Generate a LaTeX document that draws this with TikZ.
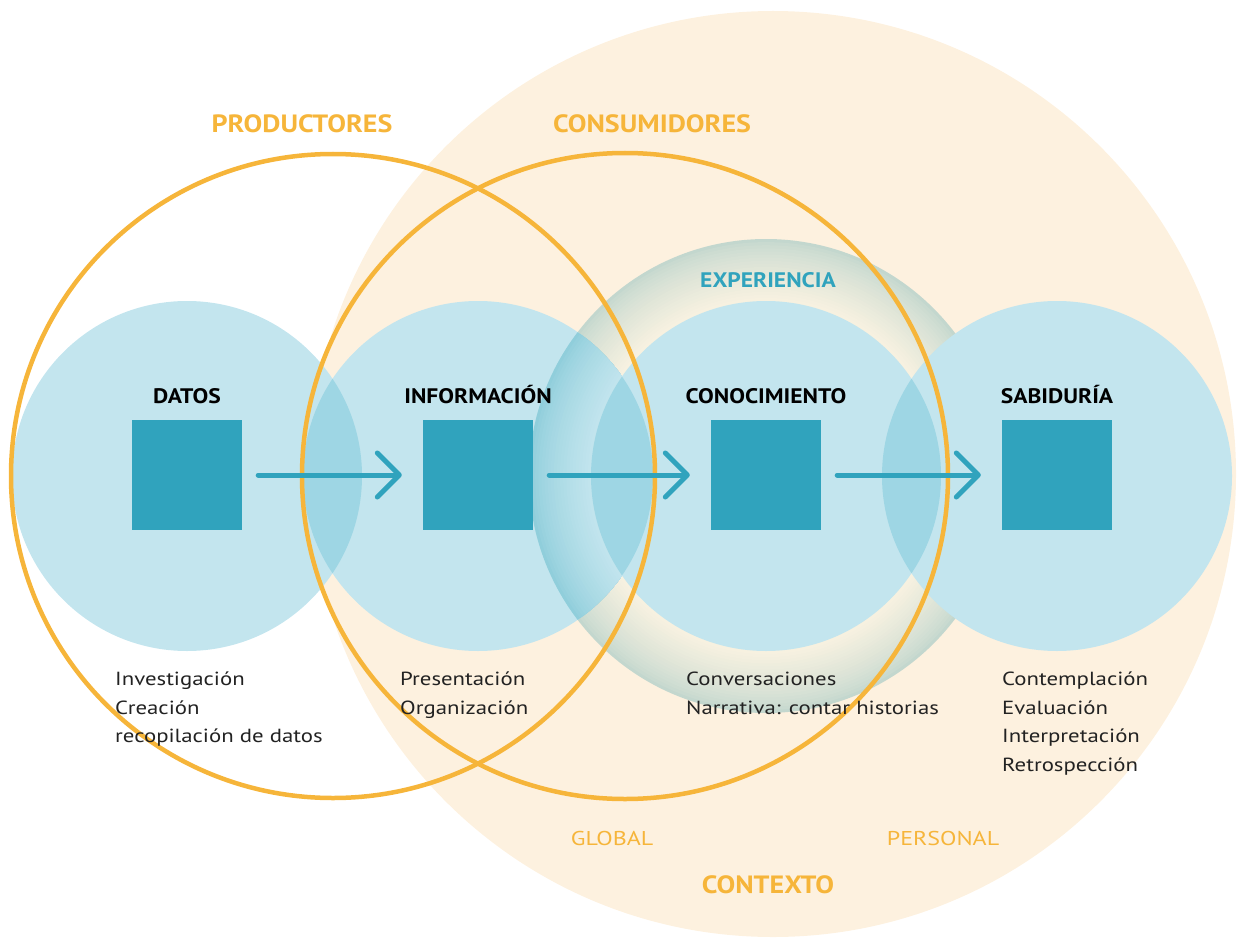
\documentclass[tikz,border=0pt]{standalone}
\usepackage{fontspec}
\setmainfont{PT Sans}
\newfontfamily\headfont[FakeStretch=1.12]{PT Sans}
\newfontfamily\listfont[FakeStretch=1.2]{PT Sans}
\usetikzlibrary{positioning,arrows.meta}
\definecolor{beige}{HTML}{FDF1DF}
\definecolor{circblue}{HTML}{C3E5EE}
\definecolor{lensblue}{HTML}{9ED6E4}
\definecolor{sqblue}{HTML}{30A3BD}
\definecolor{orangeline}{HTML}{F6B53A}
\definecolor{ringin}{HTML}{F9F2E1}
\definecolor{ringout}{HTML}{C3D7CE}
\definecolor{ringblue}{HTML}{90CEDB}
\definecolor{textgray}{HTML}{222222}

\begin{document}
\begin{tikzpicture}[x=1pt,y=-1pt,
		main/.style = {fill=sqblue, minimum size=110pt, inner sep=0pt},
		title/.style = {font=\headfont\bfseries\fontsize{21}{21}\selectfont, text=black, inner sep=0pt},
		group/.style = {font=\headfont\bfseries\fontsize{25}{25}\selectfont, text=orangeline, inner sep=0pt},
		scope/.style = {font=\listfont\fontsize{20}{20}\selectfont, text=orangeline, inner sep=0pt},
		list/.style = {font=\listfont\fontsize{19}{28.5}\selectfont, text=textgray, align=left, anchor=north west, inner sep=0pt},
		flow/.style = {line width=5pt, sqblue, line cap=round, shorten <=16pt, shorten >=21pt,
			-{Straight Barb[length=22pt,width=44pt,round]}},
		ring/.style = {draw=orangeline, line width=4.5pt}]
		\useasboundingbox (0,0) rectangle (1241,944);
		% contexto
		\fill[beige] (773,474) circle (463);
		% experiencia
		\foreach \k in {0,...,20} {
			\pgfmathsetmacro\r{237-\k*3.1}
			\pgfmathsetmacro\p{100*(\k/20)^0.75}
			\fill[ringin!\p!ringout] (766,476) circle (\r);
		}
		\fill[circblue] (187,476) circle (175);
		\fill[circblue] (478,476) circle (175);
		\fill[circblue] (1057,476) circle (175);
		\begin{scope}
			\clip (478,476) circle (175);
			\foreach \k in {0,...,20} {
				\pgfmathsetmacro\r{237-\k*3.1}
				\pgfmathsetmacro\p{100*(\k/20)^0.75}
				\fill[circblue!\p!ringblue] (766,476) circle (\r);
			}
		\end{scope}
		\fill[circblue] (766,476) circle (175);
		% overlaps
		\begin{scope}
			\clip (187,476) circle (175);
			\fill[lensblue] (478,476) circle (175);
		\end{scope}
		\begin{scope}
			\clip (478,476) circle (175);
			\fill[lensblue] (766,476) circle (175);
		\end{scope}
		\begin{scope}
			\clip (766,476) circle (175);
			\fill[lensblue] (1057,476) circle (175);
		\end{scope}
		% productores / consumidores
		\draw[ring] (333,476) circle (322);
		\draw[ring] (625,476) circle (323);
		\node[main] (d) at (187,475) {};
		\node[main] (i) at (478,475) {};
		\node[main] (c) at (766,475) {};
		\node[main] (s) at (1057,475) {};
		\node[title] (dt) [above=16pt of d] {DATOS};
		\node[title] (it) [above=16pt of i] {INFORMACIÓN};
		\node[title] (ct) [above=16pt of c] {CONOCIMIENTO};
		\node[title] (st) [above=16pt of s] {SABIDURÍA};
		\draw[flow] (d) -- (i);
		\draw[flow] (i) -- (c);
		\draw[flow] (c) -- (s);
		\node[group] (prod) at (302,124) {PRODUCTORES};
		\node[group] (cons) at (652,124) {CONSUMIDORES};
		\node[title, text=sqblue] (exp) at (768,280) {EXPERIENCIA};
		\node[list] (dl) at (115,672) {Investigación\\Creación\\recopilación de datos};
		\node[list] (il) at (400,672) {Presentación\\Organización};
		\node[list] (cl) at (686,672) {Conversaciones\\Narrativa: contar historias};
		\node[list] (sl) at (1002,672) {Contemplación\\Evaluación\\Interpretación\\Retrospección};
		\node[scope] (glob) at (612,838) {GLOBAL};
		\node[scope] (pers) at (943,838) {PERSONAL};
		\node[group] (ctx) at (768,885) {CONTEXTO};
	\end{tikzpicture}
\end{document}
